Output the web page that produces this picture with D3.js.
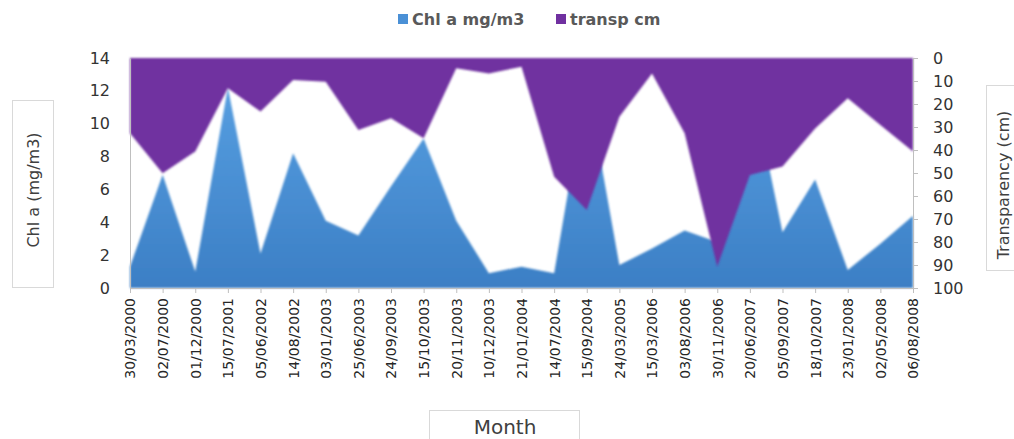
<!DOCTYPE html>
<html>
<head>
<meta charset="utf-8">
<script src="https://cdn.jsdelivr.net/npm/d3@7"></script>
<style>
  body { margin: 0; background: #fff; }
  svg { display: block; font-family: "DejaVu Sans", sans-serif; }
</style>
</head>
<body>
<svg id="chart" width="1014" height="439"></svg>
<script>
// sampling dates (category axis)
const dates = [
  "30/03/2000", "02/07/2000", "01/12/2000", "15/07/2001", "05/06/2002",
  "14/08/2002", "03/01/2003", "25/06/2003", "24/09/2003", "15/10/2003",
  "20/11/2003", "10/12/2003", "21/01/2004", "14/07/2004", "15/09/2004",
  "24/03/2005", "15/03/2006", "03/08/2006", "30/11/2006", "20/06/2007",
  "05/09/2007", "18/10/2007", "23/01/2008", "02/05/2008", "06/08/2008"
];

// Chl a (mg/m3), left axis
const chl = [1.3, 6.9, 1.0, 12.2, 2.1, 8.2, 4.1, 3.2, 6.2, 9.1,
             4.1, 0.9, 1.3, 0.9, 12.5, 1.4, 2.4, 3.5, 2.8, 13.0,
             3.4, 6.6, 1.1, 2.7, 4.4];

// transparency (cm), right axis, reversed
const transp = [32.7, 50.1, 40.7, 13.2, 23.3, 9.6, 10.3, 31.3, 26.2, 34.9,
                4.5, 6.7, 3.8, 51.6, 66.1, 25.5, 6.7, 32.7, 90.7, 50.9,
                47.2, 30.6, 17.5, 29.1, 40.7];

const chlTicks = [0, 2, 4, 6, 8, 10, 12, 14];
const transpTicks = [0, 10, 20, 30, 40, 50, 60, 70, 80, 90, 100];

const svg = d3.select("#chart");
const plot = { left: 130, right: 913, top: 58, bottom: 288 };

const x = d3.scalePoint().domain(dates).range([plot.left, plot.right]);
const yL = d3.scaleLinear().domain([0, 14]).range([plot.bottom, plot.top]);
const yR = d3.scaleLinear().domain([0, 100]).range([plot.top, plot.bottom]);

const defs = svg.append("defs");
const grad = defs.append("linearGradient")
  .attr("id", "blueGrad")
  .attr("x1", 0).attr("y1", 0).attr("x2", 0).attr("y2", 1);
grad.append("stop").attr("offset", "0%").attr("stop-color", "#58a0e2");
grad.append("stop").attr("offset", "100%").attr("stop-color", "#3c7fc5");

defs.append("filter").attr("id", "soft")
  .attr("x", "-5%").attr("y", "-5%").attr("width", "110%").attr("height", "110%")
  .append("feGaussianBlur").attr("stdDeviation", 0.9);

// ---- areas ----
const chlArea = d3.area()
  .x((d, i) => x(dates[i]))
  .y0(yL(0))
  .y1(d => yL(d));

const transpArea = d3.area()
  .x((d, i) => x(dates[i]))
  .y0(yR(0))
  .y1(d => yR(d));

svg.append("path")
  .datum(chl)
  .attr("d", chlArea)
  .attr("fill", "url(#blueGrad)")
  .attr("filter", "url(#soft)");

svg.append("path")
  .datum(transp)
  .attr("d", transpArea)
  .attr("fill", "#7030a0")
  .attr("filter", "url(#soft)");

// ---- axes ----
const axisColor = "#bfbfbf";
const textColor = "#333333";

// left axis (labels only)
const gL = svg.append("g")
  .attr("transform", `translate(${plot.left},0)`)
  .call(d3.axisLeft(yL).tickValues(chlTicks).tickSize(0).tickPadding(20));
gL.select(".domain").attr("stroke", axisColor);
gL.selectAll("text")
  .attr("fill", textColor)
  .style("font-size", "16px")
  .style("font-family", "DejaVu Sans, sans-serif");

// right axis
const gR = svg.append("g")
  .attr("transform", `translate(${plot.right},0)`)
  .call(d3.axisRight(yR).tickValues(transpTicks).tickSize(5).tickPadding(15));
gR.select(".domain").attr("stroke", axisColor);
gR.selectAll("line").attr("stroke", axisColor);
gR.selectAll("text")
  .attr("fill", textColor)
  .style("font-size", "16px")
  .style("font-family", "DejaVu Sans, sans-serif");

// bottom axis
const gB = svg.append("g")
  .attr("transform", `translate(0,${plot.bottom})`)
  .call(d3.axisBottom(x).tickSize(5).tickPadding(9));
gB.select(".domain").attr("stroke", axisColor);
gB.selectAll("line").attr("stroke", axisColor);
gB.selectAll("text")
  .attr("fill", "#262626")
  .style("font-size", "14px")
  .style("font-family", "DejaVu Sans, sans-serif")
  .attr("transform", "rotate(-90)")
  .attr("text-anchor", "end")
  .attr("x", -10)
  .attr("y", 0)
  .attr("dy", "0.35em");

// ---- axis titles in boxes ----
const boxStroke = "#d9d9d9";

svg.append("rect")
  .attr("x", 12.5).attr("y", 100.5).attr("width", 41).attr("height", 187)
  .attr("fill", "#fff").attr("stroke", boxStroke);
svg.append("text")
  .attr("transform", "translate(39,190) rotate(-90)")
  .attr("text-anchor", "middle")
  .attr("fill", "#404040")
  .style("font-size", "16px")
  .text("Chl a (mg/m3)");

svg.append("rect")
  .attr("x", 986.5).attr("y", 85.5).attr("width", 40).attr("height", 185)
  .attr("fill", "#fff").attr("stroke", boxStroke);
svg.append("text")
  .attr("transform", "translate(1009,185) rotate(-90)")
  .attr("text-anchor", "middle")
  .attr("fill", "#404040")
  .style("font-size", "16px")
  .text("Transparency (cm)");

svg.append("rect")
  .attr("x", 429.5).attr("y", 410.5).attr("width", 150).attr("height", 40)
  .attr("fill", "#fff").attr("stroke", boxStroke);
svg.append("text")
  .attr("x", 505).attr("y", 434)
  .attr("text-anchor", "middle")
  .attr("fill", "#404040")
  .style("font-size", "20px")
  .text("Month");

// ---- legend ----
const legendItems = [
  { label: "Chl a mg/m3", color: "#4a90d6", x: 398 },
  { label: "transp cm", color: "#7030a0", x: 556 }
];
const lg = svg.append("g");
legendItems.forEach(d => {
  lg.append("rect")
    .attr("x", d.x).attr("y", 14).attr("width", 10).attr("height", 10)
    .attr("fill", d.color);
  lg.append("text")
    .attr("x", d.x + 14).attr("y", 19)
    .attr("dy", "0.35em")
    .attr("fill", "#595959")
    .style("font-size", "16px")
    .style("font-weight", "bold")
    .text(d.label);
});
</script>
</body>
</html>
